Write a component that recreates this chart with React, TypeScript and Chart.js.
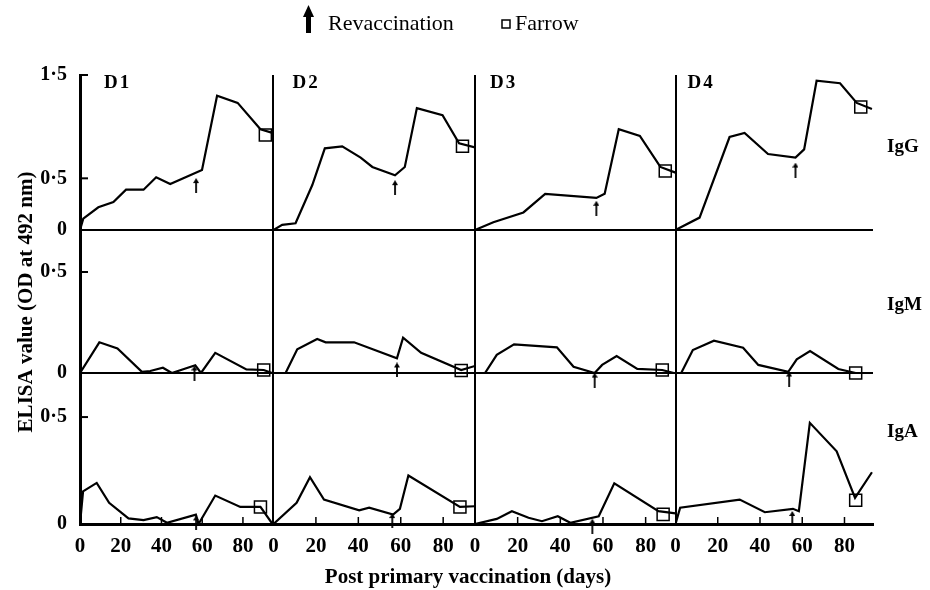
import React, { useEffect, useRef } from "react";
import { Chart, registerables } from "chart.js";

Chart.register(...registerables);

const SERIF = '"Liberation Serif", "Times New Roman", serif';

// ---- panel names and ticks ----
const columnNames = ["D1", "D2", "D3", "D4"];
const rowNames = ["IgG", "IgM", "IgA"];
const dayTicks = [0, 20, 40, 60, 80];
const igGTicks = [0, 0.5, 1.5];
const igMTicks = [0, 0.5];
const igATicks = [0, 0.5];

// ---- IgG ----
const igG_D1_days = [0, 1.6, 9, 16.4, 22.6, 31.2, 37.4, 44.3, 59.9, 67.3, 77.4, 88.6, 94.5];
const igG_D1_od = [0, 0.11, 0.22, 0.27, 0.39, 0.39, 0.51, 0.445, 0.58, 1.3, 1.23, 0.975, 0.94];
const igG_D2_days = [0, 4.1, 10.4, 18.3, 24.2, 32.4, 41.1, 46.6, 57.3, 61.9, 67.6, 79.7, 87.5, 95];
const igG_D2_od = [0, 0.05, 0.065, 0.435, 0.79, 0.81, 0.7, 0.61, 0.53, 0.61, 1.18, 1.11, 0.84, 0.8];
const igG_D3_days = [0, 8.6, 22.7, 32.9, 56.9, 60.8, 67.4, 77.3, 86.9, 94];
const igG_D3_od = [0, 0.075, 0.17, 0.35, 0.31, 0.35, 0.975, 0.91, 0.61, 0.555];
const igG_D4_days = [0, 11.4, 25.6, 32.7, 43.8, 56.8, 60.9, 66.8, 77.9, 85.8, 93];
const igG_D4_od = [0, 0.12, 0.9, 0.94, 0.735, 0.7, 0.78, 1.445, 1.42, 1.23, 1.17];

// ---- IgM ----
const igM_D1_days = [0, 9.5, 18.4, 30.4, 34.5, 40.7, 45.1, 56.6, 59.4, 66.4, 81.7, 90.2, 94.3];
const igM_D1_od = [0, 0.152, 0.122, 0.006, 0.01, 0.026, 0, 0.038, 0, 0.1, 0.018, 0.015, 0];
const igM_D2_days = [0, 5.7, 11.2, 20.6, 24.6, 38, 58.2, 61.1, 69.6, 88.5, 95];
const igM_D2_od = [0, 0, 0.117, 0.168, 0.152, 0.152, 0.073, 0.175, 0.1, 0.015, 0.035];
const igM_D3_days = [0, 4.7, 10.2, 18.3, 38.4, 46.2, 56.1, 59.6, 66.4, 76.1, 87.8, 93.2];
const igM_D3_od = [0, 0, 0.09, 0.142, 0.127, 0.031, 0, 0.04, 0.084, 0.02, 0.015, 0];
const igM_D4_days = [0, 2.7, 8.2, 18.2, 32, 39.2, 53.4, 57.4, 63.7, 77.1, 85.3];
const igM_D4_od = [0, 0, 0.114, 0.16, 0.125, 0.04, 0.006, 0.068, 0.109, 0.02, 0];

// ---- IgA ----
const igA_D1_days = [0, 1.5, 8.2, 14.3, 23.8, 31.2, 37.7, 42.7, 56.9, 58.2, 66.4, 78.7, 88.6, 94.5];
const igA_D1_od = [0, 0.153, 0.192, 0.099, 0.026, 0.018, 0.032, 0.006, 0.044, 0, 0.133, 0.08, 0.08, 0];
const igA_D2_days = [0, 10.9, 17.2, 23.8, 40.4, 45.1, 56.4, 59.6, 63.6, 87.9, 95];
const igA_D2_od = [0, 0.099, 0.219, 0.114, 0.064, 0.076, 0.044, 0.071, 0.227, 0.08, 0.083];
const igA_D3_days = [0, 10.2, 17.3, 25.1, 31.4, 38.8, 44.7, 58, 65.3, 86, 94];
const igA_D3_od = [0, 0.024, 0.06, 0.029, 0.013, 0.036, 0.006, 0.036, 0.19, 0.06, 0.05];
const igA_D4_days = [0, 2.2, 30.4, 42.3, 55.6, 58.4, 63.6, 76.3, 85, 93];
const igA_D4_od = [0, 0.076, 0.114, 0.055, 0.071, 0.06, 0.473, 0.34, 0.122, 0.242];

// ---- Farrow markers (one per panel, D1..D4) ----
const farrow_IgG_days = [91, 89.1, 89.2, 87.7];
const farrow_IgG_od = [0.92, 0.81, 0.57, 1.19];
const farrow_IgM_days = [90.2, 88.5, 87.8, 85.3];
const farrow_IgM_od = [0.015, 0.012, 0.015, 0];
const farrow_IgA_days = [88.6, 87.9, 88.2, 85.3];
const farrow_IgA_od = [0.08, 0.08, 0.045, 0.111];

// ---- Revaccination arrows (one per panel, D1..D4) ----
const revacc_IgG_days = [57, 57.3, 56.9, 56.8];
const revacc_IgG_od = [0.43, 0.41, 0.21, 0.58];
const revacc_IgM_days = [56.2, 58.2, 56.1, 53.8];
const revacc_IgM_od = [0, 0.015, -0.035, -0.03];
const revacc_IgA_days = [57, 56, 55, 55.3];
const revacc_IgA_od = [0.005, 0.016, -0.01, 0.026];

const panelDays = [
  [igG_D1_days, igG_D2_days, igG_D3_days, igG_D4_days],
  [igM_D1_days, igM_D2_days, igM_D3_days, igM_D4_days],
  [igA_D1_days, igA_D2_days, igA_D3_days, igA_D4_days],
];
const panelOD = [
  [igG_D1_od, igG_D2_od, igG_D3_od, igG_D4_od],
  [igM_D1_od, igM_D2_od, igM_D3_od, igM_D4_od],
  [igA_D1_od, igA_D2_od, igA_D3_od, igA_D4_od],
];
const farrowDays = [farrow_IgG_days, farrow_IgM_days, farrow_IgA_days];
const farrowOD = [farrow_IgG_od, farrow_IgM_od, farrow_IgA_od];
const revaccDays = [revacc_IgG_days, revacc_IgM_days, revacc_IgA_days];
const revaccOD = [revacc_IgG_od, revacc_IgM_od, revacc_IgA_od];
const rowTicks = [igGTicks, igMTicks, igATicks];

// ---- layout of the panel grid ----
const rowMax = [1.5, 0.708, 0.706];
const rowWeight = [155, 143, 151];
const colMax = [95, 95, 94, 93.5];
const colWeight = [193, 201, 200, 197];
const colLabelDay = [11.8, 9, 7, 5.7];
const rowLabelBaseline = [152, 310, 437];
const xIds = ["x1", "x2", "x3", "x4"];
const yIds = ["yG", "yM", "yA"];

function makeArrow(w: number, h: number, headH: number, shaft: number) {
  const c = document.createElement("canvas");
  c.width = w;
  c.height = h;
  const g = c.getContext("2d")!;
  g.fillStyle = "#000";
  g.beginPath();
  g.moveTo(w / 2, 0);
  g.lineTo(w, headH);
  g.lineTo(0, headH);
  g.closePath();
  g.fill();
  g.fillRect((w - shaft) / 2, headH - 1, shaft, h - headH + 1);
  return c;
}

const overlayPlugin = {
  id: "overlay",
  afterDraw(chart: any) {
    const ctx = chart.ctx as CanvasRenderingContext2D;
    const area = chart.chartArea;
    ctx.save();
    ctx.fillStyle = "#000";
    ctx.strokeStyle = "#000";
    // inward tick marks on the day axes
    ctx.lineWidth = 1.5;
    xIds.forEach((id) => {
      const s = chart.scales[id];
      dayTicks.forEach((v) => {
        if (v === 0) return;
        const px = s.getPixelForValue(v);
        ctx.beginPath();
        ctx.moveTo(px, area.bottom);
        ctx.lineTo(px, area.bottom - 7);
        ctx.stroke();
      });
    });
    // inward tick marks on the OD axes
    ctx.lineWidth = 2;
    yIds.forEach((id, r) => {
      const s = chart.scales[id];
      rowTicks[r].forEach((v) => {
        if (v === 0) return;
        const py = s.getPixelForValue(v);
        ctx.beginPath();
        ctx.moveTo(area.left, py);
        ctx.lineTo(area.left + 8, py);
        ctx.stroke();
      });
    });
    // column labels
    ctx.save();
    ctx.font = `bold 19px ${SERIF}`;
    ctx.textAlign = "left";
    ctx.textBaseline = "alphabetic";
    (ctx as any).letterSpacing = "2px";
    columnNames.forEach((name, c) => {
      const px = chart.scales[xIds[c]].getPixelForValue(colLabelDay[c]);
      ctx.fillText(name, px, 88);
    });
    ctx.restore();
    // row labels
    ctx.font = `bold 19px ${SERIF}`;
    ctx.textAlign = "left";
    ctx.textBaseline = "alphabetic";
    rowNames.forEach((name, r) => {
      ctx.fillText(name, area.right + 14, rowLabelBaseline[r]);
    });
    // axis titles
    ctx.font = `bold 21px ${SERIF}`;
    ctx.textAlign = "center";
    ctx.fillText("Post primary vaccination (days)", 468, 583);
    ctx.save();
    ctx.translate(32, 302);
    ctx.rotate(-Math.PI / 2);
    ctx.fillText("ELISA value (OD at 492 nm)", 0, 0);
    ctx.restore();
    // legend
    ctx.beginPath();
    ctx.moveTo(308.5, 5);
    ctx.lineTo(314, 17);
    ctx.lineTo(303, 17);
    ctx.closePath();
    ctx.fill();
    ctx.fillRect(306, 15, 5, 18);
    ctx.font = `22px ${SERIF}`;
    ctx.textAlign = "left";
    ctx.fillText("Revaccination", 328, 30);
    ctx.lineWidth = 1.5;
    ctx.strokeRect(502, 20, 8, 8);
    ctx.fillText("Farrow", 515, 30);
    ctx.restore();
  },
};

export default function App() {
  const ref = useRef<HTMLCanvasElement>(null);

  useEffect(() => {
    const canvas = ref.current;
    if (!canvas) return;
    Chart.defaults.font.family = SERIF;
    Chart.defaults.color = "#000";
    const smallArrow = makeArrow(6, 15, 5, 1.8);

    const datasets: any[] = [];
    for (let r = 0; r < 3; r++) {
      for (let c = 0; c < 4; c++) {
        const days = panelDays[r][c];
        const od = panelOD[r][c];
        datasets.push({
          label: `${rowNames[r]} ${columnNames[c]}`,
          data: days.map((d, i) => ({ x: d, y: od[i] })),
          xAxisID: xIds[c],
          yAxisID: yIds[r],
          borderColor: "#000",
          borderWidth: 2.2,
          pointRadius: 0,
          pointHoverRadius: 0,
          tension: 0,
          fill: false,
        });
        datasets.push({
          label: "Farrow",
          data: [{ x: farrowDays[r][c], y: farrowOD[r][c] }],
          xAxisID: xIds[c],
          yAxisID: yIds[r],
          showLine: false,
          pointStyle: "rect",
          pointRadius: 8.5,
          pointHoverRadius: 8.5,
          pointBorderWidth: 1.5,
          pointBorderColor: "#000",
          pointBackgroundColor: "rgba(0,0,0,0)",
          clip: false,
        });
        datasets.push({
          label: "Revaccination",
          data: [{ x: revaccDays[r][c], y: revaccOD[r][c] }],
          xAxisID: xIds[c],
          yAxisID: yIds[r],
          showLine: false,
          pointStyle: smallArrow,
          pointRadius: 6,
          pointHoverRadius: 6,
          clip: false,
        });
      }
    }

    const scales: any = {};
    xIds.forEach((id, c) => {
      scales[id] = {
        type: "linear",
        position: "bottom",
        stack: "columns",
        stackWeight: colWeight[c],
        weight: c + 1,
        min: 0,
        max: colMax[c],
        afterBuildTicks: (s: any) => {
          s.ticks = dayTicks.map((v) => ({ value: v }));
        },
        afterFit: (s: any) => {
          s.height = 66;
        },
        ticks: {
          autoSkip: false,
          maxRotation: 0,
          padding: 10,
          color: "#000",
          font: { family: SERIF, size: 21, weight: "bold" },
        },
        grid: {
          drawTicks: false,
          lineWidth: 2,
          color: (ctx: any) => (ctx.tick && ctx.tick.value === 0 ? "#000" : "rgba(0,0,0,0)"),
        },
        border: { display: true, color: "#000", width: 3 },
      };
    });
    yIds.forEach((id, r) => {
      scales[id] = {
        type: "linear",
        position: "left",
        stack: "rows",
        stackWeight: rowWeight[r],
        weight: 3 - r,
        min: 0,
        max: rowMax[r],
        afterBuildTicks: (s: any) => {
          s.ticks = rowTicks[r].map((v) => ({ value: v }));
        },
        afterFit: (s: any) => {
          s.width = 80;
        },
        ticks: {
          autoSkip: false,
          padding: 13,
          color: "#000",
          font: { family: SERIF, size: 20, weight: "bold" },
          callback: (v: any) => String(v).replace(".", "\u00b7"),
        },
        grid: {
          drawTicks: false,
          lineWidth: 2,
          color: (ctx: any) => (ctx.tick && ctx.tick.value === 0 ? "#000" : "rgba(0,0,0,0)"),
        },
        border: { display: true, color: "#000", width: 3 },
      };
    });

    const chart = new Chart(canvas, {
      type: "line",
      data: { datasets },
      options: {
        responsive: false,
        animation: false,
        events: [],
        layout: { padding: { top: 75, left: 0, right: 57, bottom: 0 } },
        plugins: {
          legend: { display: false },
          tooltip: { enabled: false },
          title: { display: false },
        },
        scales,
      } as any,
      plugins: [overlayPlugin],
    });
    return () => chart.destroy();
  }, []);

  return (
    <div style={{ position: "fixed", left: 0, top: 0, width: 930, height: 590, background: "#fff" }}>
      <canvas ref={ref} width={930} height={590} style={{ display: "block" }} />
    </div>
  );
}
